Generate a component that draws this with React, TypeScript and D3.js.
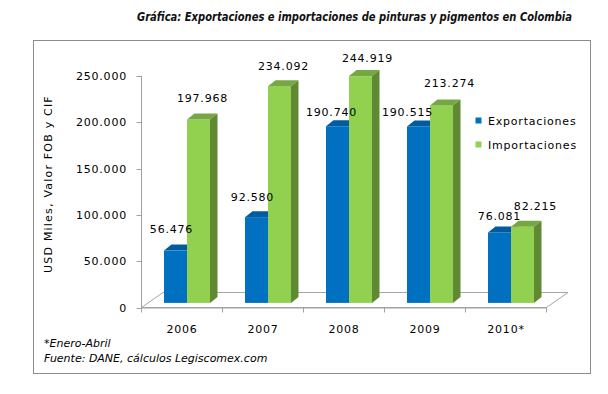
import { useEffect, useRef } from 'react';
import * as d3 from 'd3';

// Data
const years = ['2006', '2007', '2008', '2009', '2010*'];
const exportaciones = [56476, 92580, 190740, 190515, 76081];
const importaciones = [197968, 234092, 244919, 213274, 82215];
const yTicks = [0, 50000, 100000, 150000, 200000, 250000];
const seriesNames = ['Exportaciones', 'Importaciones'];

// label nudges (px) relative to the top-front centre of each bar
const labelDx = [[-4, -4, -6, -11, 0], [4, 4, 7, 8, 13]];
const labelDy = [[-18, -16, -10, -10, -12], [-18, -16, -14, -18, -17]];

const colors = [
  { front: '#0070c0', top: '#005b9f', side: '#00558f' },
  { front: '#92d050', top: '#77a743', side: '#5f8a33' },
];

const fmt = d3.formatLocale({ decimal: ',', thousands: '.', grouping: [3], currency: ['$', ''] }).format(',');

export default function App() {
  const svgRef = useRef<SVGSVGElement>(null);
  const width = 608;
  const height = 394;

  useEffect(() => {
    if (!svgRef.current) return;
    const svg = d3.select(svgRef.current);
    svg.selectAll('*').remove();

    const font = "'DejaVu Sans', Verdana, sans-serif";

    // outer frame
    svg.append('rect')
      .attr('x', 33.5).attr('y', 40.5)
      .attr('width', 557).attr('height', 333)
      .attr('fill', 'white').attr('stroke', '#8c8c8c');

    // title
    svg.append('text')
      .attr('x', 137).attr('y', 21)
      .attr('textLength', 435)
      .attr('lengthAdjust', 'spacingAndGlyphs')
      .style('font-family', "'DejaVu Sans Condensed', 'DejaVu Sans', sans-serif")
      .style('font-size', '12px')
      .style('font-weight', 'bold')
      .style('font-style', 'italic')
      .attr('fill', '#111')
      .text('Gráfica: Exportaciones e importaciones de pinturas y pigmentos en Colombia');

    const x = d3.scaleBand().domain(years).range([141.5, 546.5]);
    const y = d3.scaleLinear().domain([0, 250000]).range([307.5, 76]);
    const inner = d3.scaleBand().domain(seriesNames).range([0, 46]);

    // 3D offsets
    const floorDx = 21.5, floorDy = -15;
    const frontDx = 5, frontDy = -4.6;
    const depthDx = 7.5, depthDy = -6;

    const g = svg.append('g');
    const x0 = x.range()[0], x1 = x.range()[1], y0 = y(0);

    // floor
    g.append('path')
      .attr('d', `M${x0},${y0} L${x0 + floorDx},${y0 + floorDy} L${x1 + floorDx},${y0 + floorDy} L${x1},${y0} Z`)
      .attr('fill', 'white')
      .attr('stroke', '#a6a6a6')
      .attr('stroke-width', 1);

    // y axis
    g.append('line')
      .attr('x1', x0).attr('x2', x0)
      .attr('y1', y(250000)).attr('y2', y0)
      .attr('stroke', '#a0a0a0');
    yTicks.forEach(t => {
      g.append('line')
        .attr('x1', x0 - 5).attr('x2', x0)
        .attr('y1', Math.round(y(t)) + 0.5).attr('y2', Math.round(y(t)) + 0.5)
        .attr('stroke', '#a0a0a0');
      g.append('text')
        .attr('x', 127).attr('y', y(t) + 4)
        .attr('text-anchor', 'end')
        .style('font-family', font)
        .style('font-size', '11px')
        .style('letter-spacing', '0.8px')
        .attr('fill', '#000')
        .text(fmt(t));
    });

    // x axis
    g.append('line')
      .attr('x1', x0).attr('x2', x1)
      .attr('y1', y0 + 0.5).attr('y2', y0 + 0.5)
      .attr('stroke', '#a0a0a0');
    [...years.map(d => x(d) as number), x1].forEach(v => {
      g.append('line')
        .attr('x1', v).attr('x2', v)
        .attr('y1', y0).attr('y2', y0 + 5)
        .attr('stroke', '#a0a0a0');
    });
    years.forEach(yr => {
      g.append('text')
        .attr('x', (x(yr) as number) + x.bandwidth() / 2)
        .attr('y', 333)
        .attr('text-anchor', 'middle')
        .style('font-family', font)
        .style('font-size', '11px')
        .style('letter-spacing', '0.8px')
        .attr('fill', '#000')
        .text(yr);
    });

    // bars
    const series = [exportaciones, importaciones];
    years.forEach((yr, i) => {
      series.forEach((vals, s) => {
        const bx = (x(yr) as number) + x.bandwidth() / 2 - 23 + frontDx + (inner(seriesNames[s]) as number);
        const bw = inner.bandwidth();
        const by = y(vals[i]) + frontDy;
        const bb = y0 + frontDy;
        const c = colors[s];
        g.append('rect')
          .attr('x', bx).attr('y', by)
          .attr('width', bw).attr('height', bb - by)
          .attr('fill', c.front);
        g.append('path')
          .attr('d', `M${bx},${by} L${bx + depthDx},${by + depthDy} L${bx + bw + depthDx},${by + depthDy} L${bx + bw},${by} Z`)
          .attr('fill', c.top);
        g.append('path')
          .attr('d', `M${bx + bw},${by} L${bx + bw + depthDx},${by + depthDy} L${bx + bw + depthDx},${bb + depthDy} L${bx + bw},${bb} Z`)
          .attr('fill', c.side);
      });
    });

    // data labels
    years.forEach((yr, i) => {
      series.forEach((vals, s) => {
        const bx = (x(yr) as number) + x.bandwidth() / 2 - 23 + frontDx + (inner(seriesNames[s]) as number);
        const cx = bx + inner.bandwidth() / 2 + labelDx[s][i];
        const cy = y(vals[i]) + frontDy + labelDy[s][i];
        g.append('text')
          .attr('x', cx).attr('y', cy)
          .attr('text-anchor', 'middle')
          .style('font-family', font)
          .style('font-size', '11px')
          .style('letter-spacing', '0.8px')
          .attr('fill', '#000')
          .text(fmt(vals[i]));
      });
    });

    // y axis title
    svg.append('text')
      .attr('transform', 'translate(52,184) rotate(-90)')
      .attr('text-anchor', 'middle')
      .style('font-family', font)
      .style('font-size', '11px')
      .style('letter-spacing', '1.2px')
      .attr('fill', '#000')
      .text('USD Miles,  Valor FOB  y CIF');

    // legend
    seriesNames.forEach((name, s) => {
      const ly = 125 + s * 24;
      svg.append('rect')
        .attr('x', 475.5).attr('y', ly - 7.5)
        .attr('width', 6).attr('height', 6)
        .attr('fill', colors[s].front);
      svg.append('text')
        .attr('x', 488).attr('y', ly)
        .style('font-family', font)
        .style('font-size', '11px')
        .style('letter-spacing', '0.8px')
        .attr('fill', '#000')
        .text(name);
    });

    // footnotes
    const notes = ['*Enero-Abril', 'Fuente: DANE, cálculos Legiscomex.com'];
    notes.forEach((n, k) => {
      svg.append('text')
        .attr('x', 44).attr('y', 347 + k * 15)
        .style('font-family', font)
        .style('font-size', '11px')
        .style('font-style', 'italic')
        .attr('fill', '#000')
        .text(n);
    });
  }, []);

  return (
    <svg
      ref={svgRef}
      width={width}
      height={height}
      viewBox={`0 0 ${width} ${height}`}
      style={{ position: 'absolute', left: 0, top: 0, background: 'white' }}
    />
  );
}
